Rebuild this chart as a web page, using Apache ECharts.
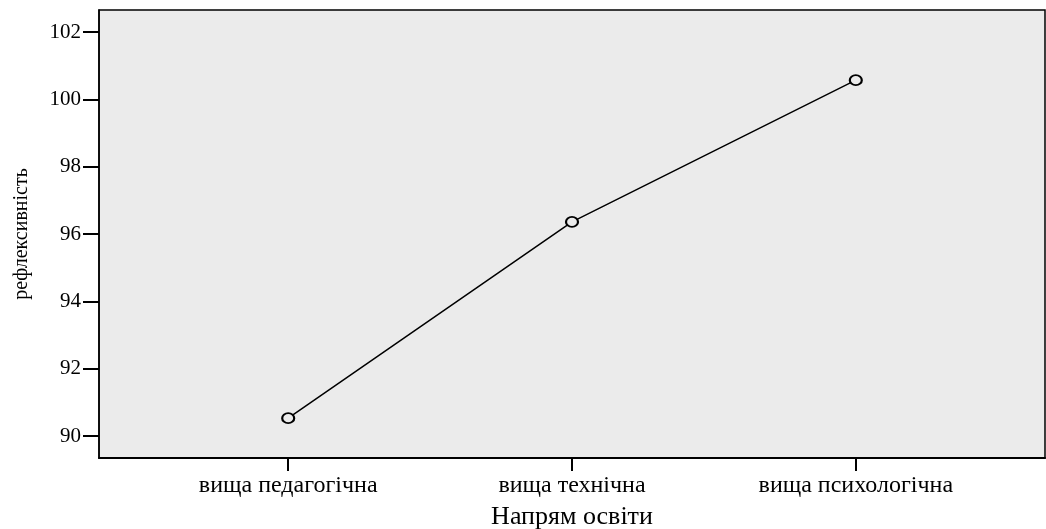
<!DOCTYPE html>
<html><head><meta charset="utf-8">
<script src="https://cdn.jsdelivr.net/npm/echarts@6/dist/echarts.min.js"></script>
<style>html,body{margin:0;padding:0;background:#fff}#c{width:1046px;height:529px}</style>
</head><body><div id="c"></div>
<script>
const categories = ['вища педагогічна', 'вища технічна', 'вища психологічна'];
const values = [90.53, 96.36, 100.57];
const yTicks = [90, 92, 94, 96, 98, 100, 102];
const xTitle = 'Напрям освіти';
const yTitle = 'рефлексивність';

const F = '"Liberation Serif", "DejaVu Serif", serif';
const chart = echarts.init(document.getElementById('c'), null, {renderer: 'canvas'});
chart.setOption({
  animation: false,
  grid: {left: 99, top: 10, right: 1, bottom: 71, containLabel: false, outerBoundsMode: 'none',
    show: true, backgroundColor: '#ebebeb', borderColor: '#000', borderWidth: 1.5},
  xAxis: {
    type: 'value', min: -2/3, max: 8/3,
    name: xTitle, nameLocation: 'middle', nameGap: 46,
    nameTextStyle: {fontFamily: F, fontSize: 26, color: '#000', verticalAlign: 'top'},
    axisLine: {show: true, onZero: false, lineStyle: {color: '#000', width: 2}},
    axisTick: {show: true, length: 13, lineStyle: {color: '#000', width: 2}, customValues: [0, 1, 2]},
    axisLabel: {fontFamily: F, fontSize: 24, color: '#000', margin: 16, customValues: [0, 1, 2],
      formatter: v => categories[Math.round(v)] || ''},
    splitLine: {show: false}
  },
  yAxis: {
    type: 'value', min: 90 - 22/33.67, max: 102 + 22/33.67,
    name: yTitle, nameLocation: 'middle', nameGap: 67, nameRotate: 90,
    nameTextStyle: {fontFamily: F, fontSize: 20, color: '#000'},
    axisLine: {show: true, onZero: false, lineStyle: {color: '#000', width: 1.5}},
    axisTick: {show: true, length: 16, lineStyle: {color: '#000', width: 2}, customValues: yTicks},
    axisLabel: {fontFamily: F, fontSize: 21, color: '#000', margin: 18, customValues: yTicks},
    splitLine: {show: false}
  },
  series: [{
    type: 'line',
    data: values.map((v, i) => [i, v]),
    symbol: 'circle', symbolSize: [12, 10],
    lineStyle: {color: '#000', width: 1.5},
    itemStyle: {color: '#ebebeb', borderColor: '#000', borderWidth: 2}
  }]
});
</script></body></html>
